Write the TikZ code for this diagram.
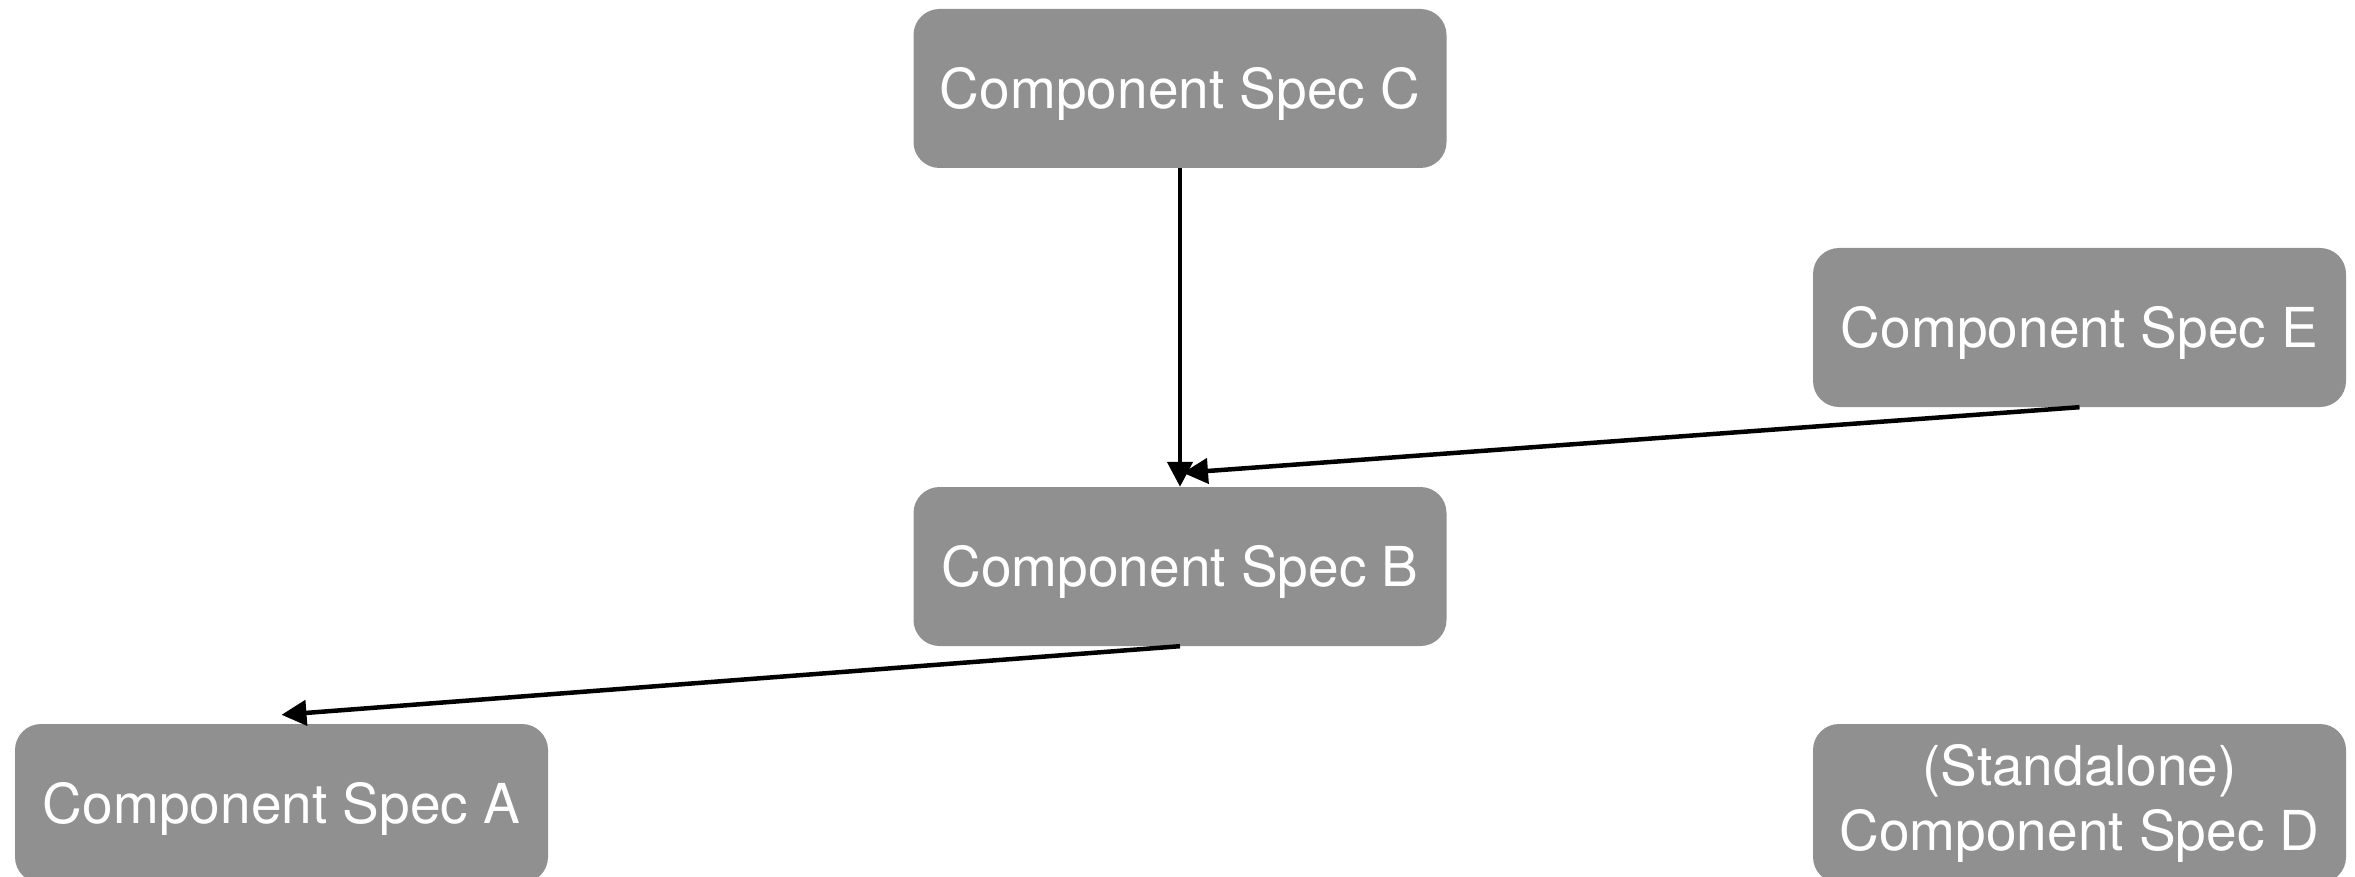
\documentclass[tikz,border=0pt]{standalone}
\usepackage{fontspec}
\setmainfont{TeX Gyre Heros}
\usetikzlibrary{arrows.meta}
\definecolor{boxgray}{RGB}{144,144,144}
\tikzset{
  spec/.style={rectangle, rounded corners=26pt, fill=boxgray, text=white,
    minimum width=533pt, minimum height=159pt, inner sep=0pt,
    font=\fontsize{55}{65}\selectfont, align=center},
  oneline/.style={text height=39.5pt, text depth=0pt},
  link/.style={line width=4.5pt, -{Triangle[length=25pt,width=25pt]}}
}
\begin{document}
\begin{tikzpicture}[x=1pt,y=-1pt]
\useasboundingbox (0,0) rectangle (2355,877);
\node[spec,oneline] (C) at (1180,88.5) {Component Spec C};
\node[spec,oneline] (E) at (2079.5,327.5) {Component Spec E};
\node[spec,oneline] (B) at (1180,566.5) {Component Spec B};
\node[spec,oneline] (A) at (281.5,803.5) {Component Spec A};
\node[spec] (D) at (2079.5,803.5) {(Standalone)\\Component Spec D};
\draw[link] (C.south) -- (B.north);
\draw[link] (E.south) -- ([xshift=3pt,yshift=14pt]B.north);
\draw[link] (B.south) -- ([yshift=9pt]A.north);
\end{tikzpicture}
\end{document}
